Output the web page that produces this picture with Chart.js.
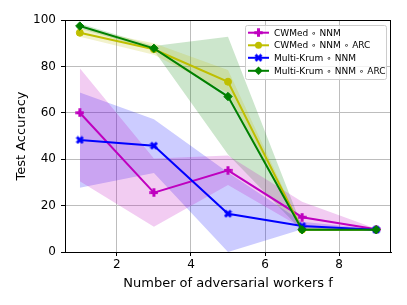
<!DOCTYPE html>
<html>
<head>
<meta charset="utf-8">
<script src="https://cdn.jsdelivr.net/npm/chart.js@4"></script>
<style>
  html, body { margin: 0; padding: 0; background: #fff; }
  #wrap { width: 407px; height: 305px; }
</style>
</head>
<body>
<div id="wrap"><canvas id="chart" width="407" height="305"></canvas></div>
<script>
// x values: number of adversarial workers
const fValues = [1, 3, 5, 7, 9];
const xTicks = [2, 4, 6, 8];
const yTicks = [0, 20, 40, 60, 80, 100];

const seriesNames = [
  'CWMed \u2218 NNM',
  'CWMed \u2218 NNM \u2218 ARC',
  'Multi-Krum \u2218 NNM',
  'Multi-Krum \u2218 NNM \u2218 ARC'
];

// mean accuracy
const cwmedNnm = [60.0, 25.6, 35.2, 15.0, 9.8];
const cwmedNnmArc = [94.5, 87.4, 73.4, 9.6, 9.6];
const krumNnm = [48.3, 45.8, 16.5, 11.2, 9.6];
const krumNnmArc = [97.4, 87.8, 67.0, 9.6, 9.6];

// shaded band lower / upper
const cwmedNnmLow = [30.5, 10.9, 28.9, 10.3, 9.6];
const cwmedNnmHigh = [79.2, 40.3, 41.6, 21.7, 10.0];
const cwmedNnmArcLow = [92.8, 85.0, 68.5, 9.4, 9.5];
const cwmedNnmArcHigh = [96.4, 90.0, 78.5, 10.0, 9.8];
const krumNnmLow = [27.7, 34.0, 0.0, 9.8, 9.5];
const krumNnmHigh = [68.8, 57.2, 34.3, 13.0, 9.8];
const krumNnmArcLow = [96.3, 86.8, 42.0, 9.2, 9.4];
const krumNnmArcHigh = [98.5, 88.8, 92.8, 11.0, 9.8];

const colors = ['rgb(191,0,191)', 'rgb(191,191,0)', 'rgb(0,0,255)', 'rgb(0,128,0)'];
const fills = ['rgba(191,0,191,0.2)', 'rgba(191,191,0,0.2)', 'rgba(0,0,255,0.2)', 'rgba(0,128,0,0.2)'];

// little marker images (filled plus, filled x)
function markerCanvas(kind, color) {
  const s = 9;
  const c = document.createElement('canvas');
  c.width = s; c.height = s;
  const g = c.getContext('2d');
  g.fillStyle = color;
  g.translate(s / 2, s / 2);
  if (kind === 'x') g.rotate(Math.PI / 4);
  const a = 4.2, b = 1.5;
  g.fillRect(-a, -b, 2 * a, 2 * b);
  g.fillRect(-b, -a, 2 * b, 2 * a);
  return c;
}

const pointStyles = [
  markerCanvas('plus', colors[0]),
  'circle',
  markerCanvas('x', colors[2]),
  'rectRot'
];
const pointRadius = [4, 3.5, 4, 4.2];

const means = [cwmedNnm, cwmedNnmArc, krumNnm, krumNnmArc];
const lows = [cwmedNnmLow, cwmedNnmArcLow, krumNnmLow, krumNnmArcLow];
const highs = [cwmedNnmHigh, cwmedNnmArcHigh, krumNnmHigh, krumNnmArcHigh];

function pts(arr) {
  return arr.map((v, i) => ({ x: fValues[i], y: v }));
}

const datasets = [];
for (let i = 0; i < 4; i++) {
  datasets.push({
    label: 'low' + i, data: pts(lows[i]), borderWidth: 0, pointRadius: 0,
    fill: false, order: 10
  });
  datasets.push({
    label: 'high' + i, data: pts(highs[i]), borderWidth: 0, pointRadius: 0,
    fill: '-1', backgroundColor: fills[i], order: 10
  });
}
for (let i = 0; i < 4; i++) {
  datasets.push({
    label: seriesNames[i], data: pts(means[i]),
    borderColor: colors[i], backgroundColor: colors[i],
    borderWidth: 2, pointStyle: pointStyles[i], pointRadius: pointRadius[i],
    pointBorderWidth: 1, pointBorderColor: colors[i],
    fill: false, order: 4 - i
  });
}

// frame on top and right like matplotlib spines
const framePlugin = {
  id: 'frame',
  afterDatasetsDraw(chart) {
    const { ctx, chartArea: a } = chart;
    ctx.save();
    ctx.strokeStyle = '#000';
    ctx.lineWidth = 1;
    ctx.strokeRect(a.left + 0.5, a.top + 0.5, a.right - a.left - 1, a.bottom - a.top);
    ctx.restore();
  }
};

// legend inside the plot, upper right
const legendPlugin = {
  id: 'insideLegend',
  afterDraw(chart) {
    const { ctx, chartArea: a } = chart;
    const x0 = 245, y0 = 25, w = a.right - 5 - x0, h = 54;
    ctx.save();
    ctx.fillStyle = 'rgba(255,255,255,0.8)';
    ctx.strokeStyle = '#cccccc';
    ctx.lineWidth = 1;
    ctx.beginPath();
    ctx.roundRect(x0 + 0.5, y0 + 0.5, w, h, 2);
    ctx.fill();
    ctx.stroke();
    ctx.font = '9px "DejaVu Sans"';
    ctx.textBaseline = 'middle';
    const rows = [32.7, 45.3, 57.8, 70.8];
    for (let i = 0; i < 4; i++) {
      const y = rows[i];
      ctx.strokeStyle = colors[i];
      ctx.lineWidth = 2;
      ctx.beginPath();
      ctx.moveTo(248, y);
      ctx.lineTo(269, y);
      ctx.stroke();
      const st = pointStyles[i];
      ctx.fillStyle = colors[i];
      if (typeof st === 'string') {
        const r = pointRadius[i];
        ctx.beginPath();
        if (st === 'circle') ctx.arc(258.5, y, r, 0, Math.PI * 2);
        else {
          ctx.moveTo(258.5, y - r); ctx.lineTo(258.5 + r, y);
          ctx.lineTo(258.5, y + r); ctx.lineTo(258.5 - r, y);
          ctx.closePath();
        }
        ctx.fill();
      } else {
        ctx.drawImage(st, 258.5 - st.width / 2, y - st.height / 2);
      }
      ctx.fillStyle = '#000';
      ctx.fillText(seriesNames[i], 274, y + 0.5);
    }
    ctx.restore();
  }
};

new Chart(document.getElementById('chart'), {
  type: 'line',
  data: { datasets: datasets },
  options: {
    responsive: false,
    animation: false,
    layout: { padding: { top: 20, right: 16, left: 0, bottom: 0 } },
    plugins: {
      legend: { display: false },
      tooltip: { enabled: false },
      filler: { drawTime: 'beforeDatasetsDraw' }
    },
    scales: {
      x: {
        type: 'linear', min: 0.6, max: 9.4,
        afterBuildTicks: (s) => { s.ticks = xTicks.map(v => ({ value: v })); },
        afterFit: (s) => { s.height = 53; },
        grid: { color: '#bdbdbd', lineWidth: 1, tickColor: '#000', tickLength: 4 },
        border: { color: '#000', width: 1 },
        ticks: { color: '#000', padding: 2, font: { family: 'DejaVu Sans', size: 12 } },
        title: {
          display: true, text: 'Number of adversarial workers f', color: '#000',
          font: { family: 'DejaVu Sans', size: 13 }, padding: { top: 0, bottom: 14 }
        }
      },
      y: {
        min: 0, max: 100,
        afterBuildTicks: (s) => { s.ticks = yTicks.map(v => ({ value: v })); },
        afterFit: (s) => { s.width = 65; },
        grid: { color: '#bdbdbd', lineWidth: 1, tickColor: '#000', tickLength: 4 },
        border: { color: '#000', width: 1 },
        ticks: { color: '#000', padding: 5, font: { family: 'DejaVu Sans', size: 12 } },
        title: {
          display: true, text: 'Test Accuracy', color: '#000',
          font: { family: 'DejaVu Sans', size: 13 }, padding: { top: 14, bottom: 0 }
        }
      }
    }
  },
  plugins: [framePlugin, legendPlugin]
});
</script>
</body>
</html>
